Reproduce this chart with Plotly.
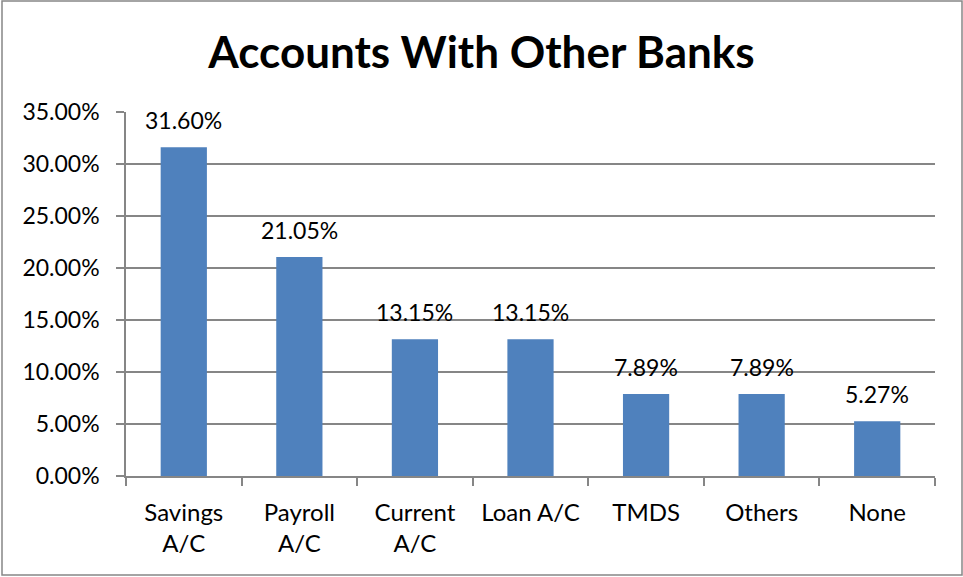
import plotly.graph_objects as go

categories = ["Savings<br>A/C", "Payroll<br>A/C", "Current<br>A/C", "Loan A/C", "TMDS", "Others", "None"]
shares = [0.3160, 0.2105, 0.1315, 0.1315, 0.0789, 0.0789, 0.0527]
y_ticks = [0, 0.05, 0.10, 0.15, 0.20, 0.25, 0.30, 0.35]

FONT = "Lato, Calibri, sans-serif"
GRID = "#868686"

fig = go.Figure(
    go.Bar(
        x=categories,
        y=shares,
        marker=dict(color="#4F81BD", line=dict(width=0)),
        hovertemplate="%{x}: %{y:.2%}<extra></extra>",
    )
)

# Value labels above each bar
for cat, val in zip(categories, shares):
    fig.add_annotation(
        x=cat,
        y=val,
        text=f"{val * 100:.2f}%",
        showarrow=False,
        yanchor="middle",
        yshift=27,
        font=dict(family=FONT, size=23, color="#000000"),
    )

fig.update_layout(
    width=963,
    height=577,
    margin=dict(l=126, r=28, t=112, b=101),
    paper_bgcolor="white",
    plot_bgcolor="white",
    bargap=0.6,
    showlegend=False,
    title=dict(
        text="<b>Accounts With Other Banks</b>",
        x=0.5,
        xanchor="center",
        y=1 - 53 / 577,
        yanchor="middle",
        font=dict(family=FONT, size=44, color="#000000"),
    ),
    font=dict(family=FONT, size=23, color="#000000"),
)

fig.update_xaxes(
    showline=True,
    linecolor=GRID,
    linewidth=1.5,
    ticks="outside",
    tickson="boundaries",
    ticklen=8,
    tickcolor=GRID,
    tickwidth=1.5,
    showgrid=False,
    ticklabelstandoff=14,
    tickfont=dict(family=FONT, size=24, color="#000000"),
)

fig.update_yaxes(
    range=[0, 0.35],
    tickvals=y_ticks,
    tickformat=".2%",
    showline=True,
    linecolor=GRID,
    linewidth=1.5,
    ticks="outside",
    ticklen=8,
    tickcolor=GRID,
    tickwidth=1.5,
    showgrid=True,
    gridcolor=GRID,
    gridwidth=1.5,
    zeroline=False,
    ticklabelstandoff=12,
    tickfont=dict(family=FONT, size=23, color="#000000"),
)

# Outer chart border
fig.add_shape(
    type="rect",
    xref="paper",
    yref="paper",
    x0=(2 - 126) / 809,
    x1=(962 - 126) / 809,
    y0=(476 - 575) / 364,
    y1=(476 - 1) / 364,
    line=dict(color="#878787", width=1.5),
    fillcolor="rgba(0,0,0,0)",
    layer="below",
)

fig.write_html("out.html")
